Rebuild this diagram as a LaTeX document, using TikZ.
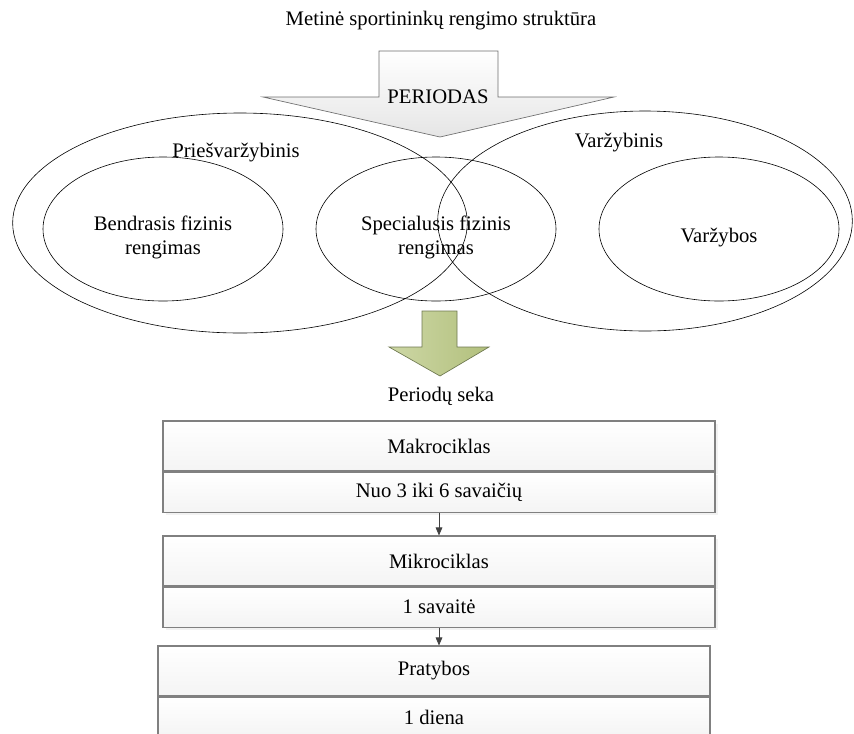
\documentclass[tikz,border=0pt]{standalone}
\usepackage{fontspec}
\setmainfont{Liberation Serif}
\usetikzlibrary{positioning,shapes.geometric,shadows,arrows.meta}
\definecolor{boxedge}{RGB}{128, 128, 128}
\definecolor{boxtop}{RGB}{255, 255, 255}
\definecolor{boxbottom}{RGB}{244, 244, 244}
\definecolor{greentop}{RGB}{205, 215, 165}
\definecolor{greenbottom}{RGB}{178, 192, 125}
\definecolor{greenedge}{RGB}{110, 120, 80}
\definecolor{greyedge}{RGB}{110, 110, 110}

\tikzset{
    every node/.style={font=\fontsize{15.5pt}{18pt}\selectfont, inner sep=0pt},
    % outer and inner ovals of the period scheme
    period/.style={ellipse, draw=black, line width=0.45pt},
    stage/.style={period, minimum width=180pt, minimum height=108pt},
    % two row boxes of the sequence
    cellbox/.style={rectangle, draw=boxedge, line width=0.8pt, minimum width=414pt,
        top color=boxtop, bottom color=boxbottom},
    boxshadow/.style={drop shadow={shadow xshift=2pt, shadow yshift=-2pt, fill=black!10}},
    flowarrow/.style={draw=black!75, line width=0.6pt, -{Triangle[length=6pt, width=5pt]}},
    greyarrow/.style={draw=greyedge, line width=0.5pt, top color=white, bottom color=black!10},
    greenarrow/.style={draw=greenedge, line width=0.5pt, left color=greentop, right color=greenbottom}
}

\begin{document}
\begin{tikzpicture}[x=0.75pt, y=-0.75pt]
    \useasboundingbox (0,0) rectangle (854,733);

    \node (title) at (441,21) {Metinė sportininkų rengimo struktūra};

    % the two big ovals, drawn first so that the arrow lies over them
    \node[period, minimum width=341pt, minimum height=165pt] (pries) at (240,223) {};
    \node[period, minimum width=311pt, minimum height=165pt] (varz) at (645,221) {};
    \node (priesname) at (236,153) {Priešvaržybinis};
    \node (varzname) at (619,143) {Varžybinis};

    % inner ovals, their texts sit a little below the centre
    \node[stage] (bendr) at (163,229) {};
    \node[stage] (spec) at (436,229) {};
    \node[stage] (varzybos) at (719,229) {};
    \node[align=center] (bendrtext) at ([yshift=-6.5pt]bendr.center) {Bendrasis fizinis\\rengimas};
    \node[align=center] (spectext) at ([yshift=-6.5pt]spec.center) {Specialusis fizinis\\rengimas};
    \node (varzybostext) at ([yshift=-6.5pt]varzybos.center) {Varžybos};

    % big grey block arrow on top
    \draw[greyarrow] (379,51) -- (498,51) -- (498,97) -- (614,97) -- (440,137)
        -- (263,97) -- (379,97) -- cycle;
    \node (periodas) at (438,97) {PERIODAS};

    % green block arrow
    \draw[greenarrow] (422,311) -- (457,311) -- (457,347) -- (489,347) -- (440,376)
        -- (389,347) -- (422,347) -- cycle;
    \node (seka) at (441,396) {Periodų seka};

    % sequence of cycles
    \node[cellbox, boxshadow, minimum height=37.5pt] (makro) at (439,446) {Makrociklas};
    \node[cellbox, boxshadow, minimum height=30pt, below=0pt of makro] (makrolen) {Nuo 3 iki 6 savaičių};
    \node[cellbox, boxshadow, minimum height=37.5pt] (mikro) at (439,561) {Mikrociklas};
    \node[cellbox, boxshadow, minimum height=30pt, below=0pt of mikro] (mikrolen) {1 savaitė};
    \node[cellbox, minimum height=37.5pt] (prat) at (434,671) {Pratybos};
    \node[cellbox, minimum height=30pt, below=0pt of prat] (pratlen) {1 diena};

    \draw[flowarrow] (makrolen.south) -- (mikro.north);
    \draw[flowarrow] (mikrolen.south) -- (mikrolen.south |- prat.north);
\end{tikzpicture}
\end{document}
